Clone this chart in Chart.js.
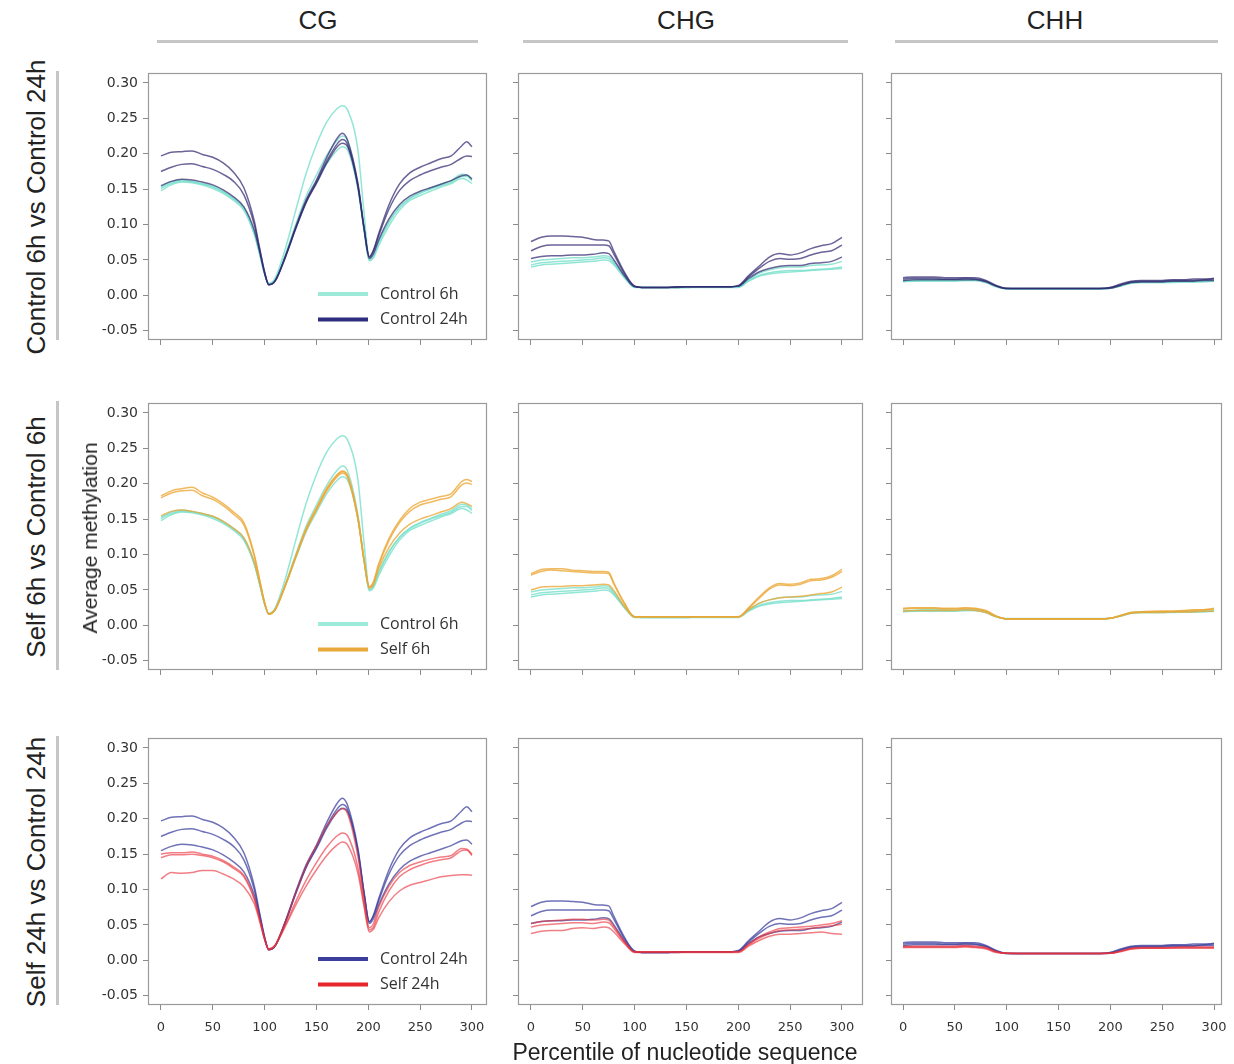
<!DOCTYPE html>
<html><head><meta charset="utf-8">
<script src="https://cdn.jsdelivr.net/npm/chart.js@4.4.1/dist/chart.umd.min.js"></script>
<style>
html,body{margin:0;padding:0;background:#fff;}
body{width:1234px;height:1064px;position:relative;overflow:hidden;font-family:'Liberation Sans',Arial,sans-serif;color:#222;}
canvas{position:absolute;}
.hdr{position:absolute;font-size:26px;line-height:30px;text-align:center;width:200px;transform:translate(-50%,-50%);}
.hline{position:absolute;height:3px;background:#c6c6c6;}
.vline{position:absolute;width:3px;background:#c6c6c6;}
.rot{position:absolute;white-space:nowrap;transform:translate(-50%,-50%) rotate(-90deg);}
.xt{position:absolute;white-space:nowrap;transform:translate(-50%,-50%);}
</style></head><body>
<script>
// ---------------- DATA ----------------
const contexts = ['CG', 'CHG', 'CHH'];
const rowTitles = ['Control 6h vs Control 24h', 'Self 6h vs Control 6h', 'Self 24h vs Control 24h'];
const xTitle = 'Percentile of nucleotide sequence';
const yTitle = 'Average methylation';
const groupNames = {C6: 'Control 6h', C24: 'Control 24h', S6: 'Self 6h', S24: 'Self 24h'};

// x positions (percentile of nucleotide sequence)
const posCG  = [0,10,20,30,40,50,60,70,80,90,95,100,104,110,120,130,140,150,160,170,175,180,190,196,201,205,210,220,230,240,250,260,270,280,290,295,300];
const posCHG = [0,10,20,30,40,50,60,70,75,80,90,100,110,120,130,140,150,160,170,180,190,200,210,220,230,240,250,260,270,280,290,300];
const posCHH = [0,10,20,30,40,50,60,70,80,90,100,110,120,130,140,150,160,170,180,190,200,210,220,230,240,250,260,270,280,290,300];

// CG — three replicates per condition
const CG_C24 = [
 [0.197,0.202,0.203,0.204,0.199,0.195,0.187,0.174,0.152,0.105,0.068,0.033,0.015,0.020,0.055,0.097,0.135,0.163,0.195,0.222,0.229,0.219,0.158,0.095,0.054,0.064,0.087,0.128,0.157,0.173,0.181,0.187,0.193,0.197,0.211,0.217,0.210],
 [0.175,0.181,0.185,0.186,0.182,0.178,0.171,0.161,0.142,0.100,0.066,0.032,0.015,0.020,0.054,0.095,0.132,0.160,0.190,0.214,0.220,0.213,0.155,0.094,0.055,0.063,0.084,0.122,0.148,0.162,0.170,0.176,0.181,0.185,0.194,0.197,0.196],
 [0.155,0.161,0.164,0.163,0.160,0.156,0.149,0.139,0.125,0.092,0.063,0.031,0.015,0.020,0.054,0.094,0.131,0.158,0.187,0.210,0.215,0.210,0.153,0.093,0.052,0.059,0.078,0.108,0.128,0.140,0.147,0.152,0.157,0.162,0.169,0.170,0.164]
];
const CG_C6 = [
 [0.151,0.158,0.161,0.160,0.157,0.153,0.146,0.136,0.122,0.088,0.060,0.030,0.017,0.024,0.066,0.120,0.172,0.213,0.245,0.264,0.268,0.262,0.205,0.115,0.053,0.057,0.075,0.104,0.124,0.137,0.144,0.150,0.155,0.160,0.168,0.168,0.162],
 [0.153,0.160,0.163,0.161,0.158,0.154,0.147,0.137,0.123,0.088,0.060,0.030,0.016,0.022,0.058,0.100,0.140,0.170,0.198,0.219,0.225,0.218,0.156,0.092,0.050,0.055,0.074,0.103,0.124,0.137,0.145,0.151,0.157,0.162,0.171,0.170,0.165],
 [0.148,0.156,0.160,0.159,0.156,0.151,0.144,0.134,0.120,0.086,0.059,0.030,0.016,0.022,0.056,0.095,0.132,0.160,0.186,0.205,0.210,0.205,0.150,0.090,0.049,0.053,0.070,0.098,0.120,0.134,0.141,0.147,0.153,0.158,0.165,0.163,0.158]
];
const CG_S6 = [
 [0.183,0.190,0.193,0.195,0.187,0.181,0.172,0.160,0.145,0.100,0.066,0.032,0.016,0.022,0.057,0.098,0.137,0.166,0.194,0.213,0.218,0.212,0.152,0.092,0.055,0.062,0.087,0.123,0.148,0.165,0.174,0.178,0.182,0.186,0.203,0.206,0.203],
 [0.180,0.187,0.190,0.191,0.183,0.178,0.169,0.157,0.142,0.098,0.065,0.032,0.016,0.022,0.056,0.096,0.134,0.163,0.190,0.210,0.215,0.209,0.150,0.091,0.054,0.060,0.084,0.120,0.145,0.161,0.170,0.174,0.178,0.182,0.198,0.201,0.199],
 [0.155,0.161,0.163,0.161,0.158,0.154,0.147,0.137,0.124,0.089,0.061,0.031,0.016,0.022,0.057,0.097,0.135,0.164,0.192,0.212,0.217,0.211,0.151,0.091,0.052,0.058,0.080,0.110,0.130,0.143,0.150,0.155,0.160,0.165,0.174,0.172,0.168]
];
const CG_S24 = [
 [0.150,0.152,0.152,0.153,0.150,0.147,0.141,0.132,0.120,0.088,0.060,0.030,0.015,0.021,0.055,0.095,0.133,0.162,0.190,0.209,0.214,0.207,0.146,0.086,0.046,0.052,0.075,0.105,0.124,0.134,0.139,0.143,0.146,0.148,0.158,0.157,0.150],
 [0.145,0.149,0.149,0.150,0.148,0.145,0.139,0.130,0.118,0.086,0.059,0.030,0.016,0.021,0.050,0.083,0.113,0.138,0.160,0.176,0.180,0.176,0.131,0.079,0.043,0.047,0.068,0.098,0.118,0.128,0.134,0.139,0.142,0.145,0.155,0.156,0.148],
 [0.115,0.124,0.123,0.124,0.127,0.127,0.122,0.115,0.104,0.080,0.056,0.029,0.016,0.021,0.048,0.078,0.105,0.128,0.148,0.163,0.167,0.163,0.123,0.075,0.040,0.044,0.060,0.083,0.098,0.106,0.110,0.114,0.118,0.120,0.121,0.121,0.120]
];

// CHG
const CHG_C24 = [
 [0.076,0.082,0.084,0.084,0.083,0.082,0.079,0.078,0.077,0.062,0.033,0.013,0.011,0.011,0.011,0.012,0.012,0.012,0.012,0.012,0.012,0.014,0.028,0.041,0.054,0.059,0.057,0.060,0.066,0.070,0.073,0.082],
 [0.063,0.069,0.071,0.071,0.071,0.071,0.071,0.071,0.070,0.058,0.031,0.013,0.011,0.011,0.011,0.012,0.012,0.012,0.012,0.012,0.012,0.013,0.026,0.038,0.048,0.052,0.051,0.052,0.057,0.061,0.063,0.071],
 [0.052,0.055,0.056,0.056,0.057,0.057,0.058,0.060,0.059,0.050,0.028,0.012,0.011,0.011,0.011,0.011,0.012,0.012,0.012,0.012,0.012,0.013,0.024,0.033,0.038,0.041,0.042,0.042,0.045,0.046,0.048,0.054]
];
const CHG_C6 = [
 [0.043,0.046,0.047,0.048,0.049,0.050,0.051,0.053,0.052,0.045,0.026,0.012,0.011,0.011,0.011,0.011,0.011,0.012,0.012,0.012,0.012,0.012,0.021,0.028,0.032,0.034,0.035,0.035,0.036,0.037,0.038,0.040],
 [0.047,0.050,0.051,0.052,0.053,0.053,0.054,0.056,0.055,0.047,0.027,0.012,0.011,0.011,0.011,0.011,0.011,0.012,0.012,0.012,0.012,0.012,0.022,0.031,0.036,0.039,0.040,0.040,0.042,0.043,0.044,0.048],
 [0.040,0.043,0.044,0.045,0.046,0.047,0.048,0.050,0.049,0.043,0.025,0.011,0.011,0.011,0.011,0.011,0.011,0.011,0.011,0.011,0.011,0.011,0.020,0.027,0.030,0.032,0.033,0.034,0.035,0.036,0.037,0.038]
];
const CHG_S6 = [
 [0.073,0.079,0.080,0.080,0.078,0.077,0.076,0.076,0.075,0.060,0.032,0.012,0.012,0.012,0.012,0.012,0.012,0.012,0.012,0.012,0.012,0.012,0.025,0.040,0.053,0.059,0.058,0.060,0.065,0.066,0.070,0.079],
 [0.071,0.076,0.078,0.077,0.076,0.075,0.074,0.074,0.073,0.058,0.031,0.012,0.012,0.012,0.012,0.012,0.012,0.012,0.012,0.012,0.012,0.012,0.024,0.038,0.051,0.057,0.056,0.058,0.063,0.064,0.068,0.076],
 [0.050,0.054,0.055,0.055,0.056,0.056,0.057,0.058,0.057,0.049,0.027,0.012,0.012,0.012,0.012,0.012,0.012,0.012,0.012,0.012,0.012,0.012,0.022,0.031,0.036,0.039,0.040,0.041,0.043,0.045,0.047,0.054]
];
const CHG_S24 = [
 [0.052,0.055,0.056,0.057,0.058,0.058,0.057,0.058,0.057,0.048,0.027,0.012,0.012,0.012,0.012,0.012,0.012,0.012,0.012,0.012,0.012,0.012,0.023,0.033,0.040,0.045,0.046,0.047,0.048,0.050,0.052,0.056],
 [0.047,0.050,0.051,0.052,0.053,0.053,0.052,0.054,0.053,0.045,0.026,0.012,0.012,0.012,0.012,0.012,0.012,0.012,0.012,0.012,0.012,0.012,0.022,0.031,0.038,0.042,0.043,0.044,0.045,0.047,0.049,0.051],
 [0.038,0.041,0.042,0.042,0.045,0.046,0.045,0.047,0.046,0.040,0.024,0.011,0.011,0.011,0.011,0.011,0.011,0.011,0.011,0.011,0.011,0.011,0.020,0.028,0.034,0.037,0.037,0.038,0.039,0.040,0.038,0.037]
];

// CHH
const CHH_C24 = [
 [0.025,0.026,0.026,0.026,0.025,0.025,0.025,0.025,0.021,0.014,0.010,0.0095,0.0095,0.0095,0.0095,0.0095,0.0095,0.0095,0.0095,0.0095,0.011,0.016,0.020,0.021,0.021,0.021,0.022,0.022,0.023,0.023,0.024],
 [0.023,0.024,0.024,0.024,0.023,0.023,0.024,0.023,0.020,0.013,0.0095,0.0095,0.0095,0.0095,0.0095,0.0095,0.0095,0.0095,0.0095,0.0095,0.011,0.015,0.019,0.020,0.020,0.020,0.021,0.021,0.021,0.022,0.023],
 [0.021,0.022,0.022,0.022,0.022,0.022,0.022,0.022,0.019,0.013,0.0095,0.0095,0.0095,0.0095,0.0095,0.0095,0.0095,0.0095,0.0095,0.0095,0.010,0.014,0.018,0.019,0.019,0.019,0.020,0.020,0.020,0.021,0.021]
];
const CHH_C6 = [
 [0.021,0.021,0.022,0.022,0.022,0.021,0.022,0.022,0.019,0.013,0.0095,0.0095,0.0095,0.0095,0.0095,0.0095,0.0095,0.0095,0.0095,0.0095,0.010,0.014,0.018,0.019,0.019,0.019,0.019,0.020,0.020,0.020,0.021],
 [0.019,0.020,0.020,0.020,0.020,0.020,0.021,0.021,0.018,0.012,0.009,0.009,0.009,0.009,0.009,0.009,0.009,0.009,0.009,0.009,0.010,0.013,0.017,0.018,0.018,0.018,0.018,0.019,0.019,0.019,0.020],
 [0.020,0.020,0.021,0.021,0.021,0.021,0.021,0.021,0.018,0.012,0.009,0.009,0.009,0.009,0.009,0.009,0.009,0.009,0.009,0.009,0.010,0.013,0.017,0.018,0.018,0.018,0.019,0.019,0.019,0.020,0.020]
];
const CHH_S6 = [
 [0.024,0.025,0.025,0.025,0.024,0.024,0.025,0.024,0.021,0.013,0.009,0.009,0.009,0.009,0.009,0.009,0.009,0.009,0.009,0.009,0.010,0.014,0.018,0.019,0.020,0.020,0.020,0.021,0.022,0.022,0.024],
 [0.023,0.024,0.024,0.024,0.023,0.023,0.024,0.023,0.020,0.013,0.009,0.009,0.009,0.009,0.009,0.009,0.009,0.009,0.009,0.009,0.010,0.014,0.018,0.019,0.019,0.020,0.020,0.020,0.021,0.022,0.023],
 [0.020,0.021,0.021,0.021,0.021,0.021,0.022,0.021,0.018,0.012,0.009,0.009,0.009,0.009,0.009,0.009,0.009,0.009,0.009,0.009,0.010,0.013,0.017,0.018,0.018,0.018,0.019,0.019,0.019,0.020,0.020]
];
const CHH_S24 = [
 [0.020,0.020,0.020,0.020,0.020,0.020,0.021,0.020,0.018,0.012,0.010,0.0098,0.0098,0.0098,0.0098,0.0098,0.0098,0.0098,0.0098,0.0098,0.010,0.013,0.017,0.018,0.018,0.018,0.018,0.019,0.019,0.019,0.019],
 [0.019,0.019,0.019,0.019,0.019,0.019,0.020,0.019,0.017,0.012,0.010,0.0098,0.0098,0.0098,0.0098,0.0098,0.0098,0.0098,0.0098,0.0098,0.010,0.013,0.016,0.017,0.017,0.017,0.018,0.018,0.018,0.018,0.018],
 [0.018,0.018,0.018,0.018,0.018,0.018,0.019,0.018,0.016,0.011,0.010,0.0098,0.0098,0.0098,0.0098,0.0098,0.0098,0.0098,0.0098,0.0098,0.010,0.012,0.016,0.017,0.017,0.017,0.017,0.017,0.017,0.017,0.017]
];

// ---------------- ASSEMBLY ----------------
const POS = {CG: posCG, CHG: posCHG, CHH: posCHH};
const DATA = {
  CG:  {C6: CG_C6,  C24: CG_C24,  S6: CG_S6,  S24: CG_S24},
  CHG: {C6: CHG_C6, C24: CHG_C24, S6: CHG_S6, S24: CHG_S24},
  CHH: {C6: CHH_C6, C24: CHH_C24, S6: CHH_S6, S24: CHH_S24}
};
// per row: groups listed bottom-first, with line / legend colours
const ROW_GROUPS = [
  [{g:'C6', line:'rgba(120,224,204,0.8)', key:'#9DE9DA'}, {g:'C24', line:'rgba(48,40,112,0.72)', key:'#2C2D7C'}],
  [{g:'C6', line:'rgba(120,224,204,0.8)', key:'#9DE9DA'}, {g:'S6', line:'rgba(236,166,52,0.78)', key:'#E9A83C'}],
  [{g:'C24', line:'rgba(55,60,155,0.72)', key:'#3B3E9D'}, {g:'S24', line:'rgba(232,46,56,0.62)', key:'#E6262B'}]
];

// layout geometry
const COLS = [{l:148, w:339, xmin:-12.5, xmax:314.5}, {l:518, w:345, xmin:-12.5, xmax:320.3}, {l:891, w:331, xmin:-11.6, xmax:307.7}];
const ROWS = [{t:73, h:267}, {t:403, h:267}, {t:738, h:267}];
const YMIN = -0.0631, YMAX = 0.3141;

Chart.defaults.font.family = "'DejaVu Sans', sans-serif";
Chart.defaults.color = '#333';

const boxPlugin = {
  id: 'boxPlugin',
  afterDraw(chart) {
    const a = chart.chartArea, ctx = chart.ctx;
    ctx.save();
    ctx.strokeStyle = '#9a9a9a'; ctx.lineWidth = 1.2;
    ctx.strokeRect(a.left + 0.5, a.top + 0.5, a.right - a.left - 1, a.bottom - a.top - 1);
    ctx.restore();
  }
};
function legendPlugin(items) {
  return {
    id: 'groupLegend',
    afterDatasetsDraw(chart) {
      const a = chart.chartArea, ctx = chart.ctx;
      ctx.save();
      items.forEach((it, i) => {
        const x = a.left + 170, y = a.top + 221 + i * 25.5;
        ctx.strokeStyle = it.color; ctx.lineWidth = 4; ctx.lineCap = 'butt';
        ctx.beginPath(); ctx.moveTo(x, y); ctx.lineTo(x + 50, y); ctx.stroke();
        ctx.fillStyle = '#333'; ctx.font = "16px 'Open Sans', sans-serif"; ctx.textBaseline = 'middle';
        ctx.fillText(it.label, x + 62, y);
      });
      ctx.restore();
    }
  };
}

function makePanel(r, c) {
  const ctxName = contexts[c];
  const cb = COLS[c], rb = ROWS[r];
  const yW = c === 0 ? 52 : 8;
  const xH = r === 2 ? 40 : 8;
  const padT = 8, padR = 8;
  const W = yW + cb.w + padR, H = padT + rb.h + xH;
  const cv = document.createElement('canvas');
  cv.width = W; cv.height = H;
  cv.style.left = (cb.l - yW) + 'px';
  cv.style.top = (rb.t - padT) + 'px';
  cv.style.width = W + 'px'; cv.style.height = H + 'px';
  document.body.appendChild(cv);

  const pos = POS[ctxName];
  const datasets = [];
  const groups = ROW_GROUPS[r].slice().reverse(); // top group first => drawn on top
  groups.forEach(gs => {
    DATA[ctxName][gs.g].forEach(rep => {
      datasets.push({
        label: groupNames[gs.g],
        data: pos.map((x, i) => ({x: x, y: rep[i]})),
        borderColor: gs.line, borderWidth: 1.5, pointRadius: 0,
        cubicInterpolationMode: 'monotone', fill: false
      });
    });
  });
  const plugins = [boxPlugin];
  if (c === 0) plugins.push(legendPlugin(ROW_GROUPS[r].map(gs => ({label: groupNames[gs.g], color: gs.key}))));

  const zeroPad = s => { s.paddingTop = 0; s.paddingBottom = 0; s.paddingLeft = 0; s.paddingRight = 0; };
  new Chart(cv, {
    type: 'line',
    data: {datasets},
    plugins,
    options: {
      responsive: false, animation: false, devicePixelRatio: 1, events: [],
      layout: {padding: {top: padT, right: padR, left: 0, bottom: 0}},
      plugins: {legend: {display: false}, tooltip: {enabled: false}},
      scales: {
        x: {
          type: 'linear', min: cb.xmin, max: cb.xmax,
          ticks: {display: r === 2, stepSize: 50, includeBounds: false, autoSkip: false, maxRotation: 0,
                  padding: 10, font: {size: 13}, color: '#333', callback: v => String(v)},
          grid: {drawOnChartArea: false, drawTicks: true, tickLength: 5, color: '#8a8a8a'},
          border: {display: false},
          afterFit: s => { s.height = xH; zeroPad(s); }
        },
        y: {
          type: 'linear', min: YMIN, max: YMAX,
          ticks: {display: c === 0, stepSize: 0.05, includeBounds: false, autoSkip: false,
                  padding: 5, font: {size: 14}, color: '#333', callback: v => Number(v).toFixed(2)},
          grid: {drawOnChartArea: false, drawTicks: true, tickLength: 5, color: '#8a8a8a'},
          border: {display: false},
          afterFit: s => { s.width = yW; zeroPad(s); }
        }
      }
    }
  });
}

for (let r = 0; r < 3; r++) for (let c = 0; c < 3; c++) makePanel(r, c);

// ---------------- TEXT / DECOR ----------------
function addDiv(cls, text, styles) {
  const d = document.createElement('div');
  d.className = cls; if (text) d.textContent = text;
  Object.assign(d.style, styles);
  document.body.appendChild(d);
  return d;
}
const headerX = [318, 686, 1055];
const headerLine = [[157, 478], [523, 848], [895, 1218]];
contexts.forEach((name, i) => {
  addDiv('hdr', name, {left: headerX[i] + 'px', top: '20px'});
  addDiv('hline', '', {left: headerLine[i][0] + 'px', top: '40px', width: (headerLine[i][1] - headerLine[i][0]) + 'px'});
});
rowTitles.forEach((t, i) => {
  const rb = ROWS[i];
  addDiv('rot', t, {left: '36px', top: (rb.t + rb.h / 2) + 'px', fontSize: '26px'});
  addDiv('vline', '', {left: '56px', top: (rb.t - 2) + 'px', height: (rb.h + 2) + 'px'});
});
addDiv('rot', yTitle, {left: '90px', top: '538px', fontSize: '21px'});
addDiv('xt', xTitle, {left: '685px', top: '1052px', fontSize: '23px'});
</script>
</body></html>
